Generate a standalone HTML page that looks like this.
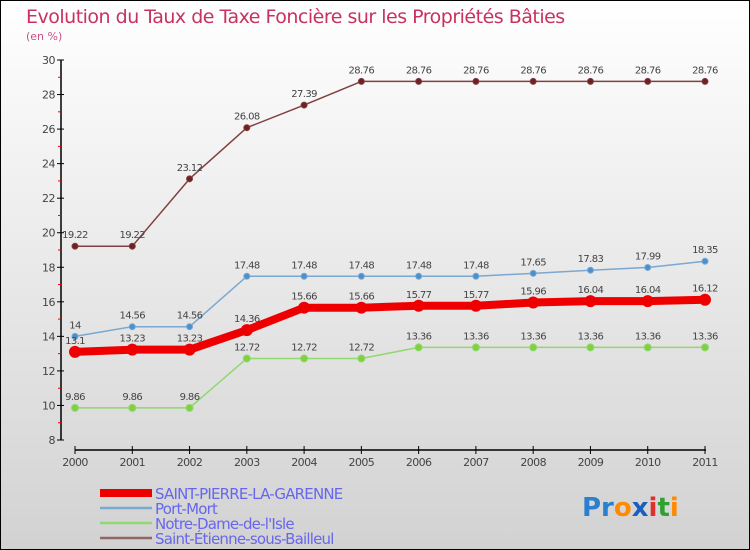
<!DOCTYPE html>
<html><head><meta charset="utf-8"><style>
body{margin:0}
#c{width:750px;height:550px;position:relative;background:linear-gradient(#ffffff,#d2d2d2);border:1px solid #000;box-sizing:border-box;font-family:"DejaVu Sans","Liberation Sans",sans-serif}
text{font-family:"DejaVu Sans","Liberation Sans",sans-serif}
</style></head><body>
<div id="c">
<svg id="s" width="750" height="550" style="position:absolute;left:-1px;top:-1px">
<text x="26" y="23" font-size="19" fill="#c8325f" letter-spacing="-0.5">Evolution du Taux de Taxe Foncière sur les Propriétés Bâties</text>
<text x="26" y="40" font-size="11" fill="#c8508a">(en %)</text>
<g id="axes"></g><g id="series"></g>
<g>
<rect x="100" y="489" width="52" height="8" fill="#ee0000"/>
<text x="155" y="499" font-size="15" fill="#6666ee" letter-spacing="-0.8">SAINT-PIERRE-LA-GARENNE</text>
<line x1="100" y1="508" x2="152" y2="508" stroke="#7aa8d0" stroke-width="2.5"/>
<text x="155" y="514" font-size="15" fill="#6666ee" letter-spacing="-0.8">Port-Mort</text>
<line x1="100" y1="523" x2="152" y2="523" stroke="#90d870" stroke-width="2.5"/>
<text x="155" y="529" font-size="15" fill="#6666ee" letter-spacing="-0.8">Notre-Dame-de-l'Isle</text>
<line x1="100" y1="538" x2="152" y2="538" stroke="#906868" stroke-width="2.5"/>
<text x="155" y="544" font-size="15" fill="#6666ee" letter-spacing="-0.8">Saint-Étienne-sous-Bailleul</text>
</g>
<text x="582" y="516" font-size="26" font-weight="bold"><tspan fill="#2a7fd0">Pr</tspan><tspan fill="#ff8a00">o</tspan><tspan fill="#1a5fc0">x</tspan><tspan fill="#e03030">i</tspan><tspan fill="#30a030">t</tspan><tspan fill="#ff8a00">i</tspan></text>
</svg></div>
<script>
const years=[2000,2001,2002,2003,2004,2005,2006,2007,2008,2009,2010,2011];
const yTicks=[8,10,12,14,16,18,20,22,24,26,28,30];
const stPierre=[13.1,13.23,13.23,14.36,15.66,15.66,15.77,15.77,15.96,16.04,16.04,16.12];
const portMort=[14,14.56,14.56,17.48,17.48,17.48,17.48,17.48,17.65,17.83,17.99,18.35];
const notreDame=[9.86,9.86,9.86,12.72,12.72,12.72,13.36,13.36,13.36,13.36,13.36,13.36];
const stEtienne=[19.22,19.22,23.12,26.08,27.39,28.76,28.76,28.76,28.76,28.76,28.76,28.76];
const NS="http://www.w3.org/2000/svg";
const X=i=>75+i*(705-75)/(years.length-1);
const Y=v=>440-(v-8)*(380/22);
function mk(t,a,p){const e=document.createElementNS(NS,t);for(const k in a)e.setAttribute(k,a[k]);p.appendChild(e);return e;}
const ax=document.getElementById('axes');
let yl=mk('line',{x1:61,y1:Y(30),x2:61,y2:Y(8),stroke:'#000','stroke-width':1.5},ax);


yTicks.forEach((v,k)=>{
 mk('line',{x1:57,y1:Y(v),x2:64,y2:Y(v),stroke:'#000'},ax);
 if(k<yTicks.length-1) mk('line',{x1:58,y1:Y(v+1),x2:61,y2:Y(v+1),stroke:'#e00'},ax);
 let t=mk('text',{x:55,y:Y(v)+4,'font-size':11,fill:'#444','text-anchor':'end','letter-spacing':'-0.5'},ax);t.textContent=v;
 
 
});
let xl=mk('line',{x1:75,y1:450,x2:706,y2:450,stroke:'#000','stroke-width':1.5},ax);


years.forEach((y,i)=>{
 mk('line',{x1:X(i),y1:446,x2:X(i),y2:454,stroke:'#000'},ax);
 let t=mk('text',{x:X(i),y:466,'font-size':11,fill:'#444','text-anchor':'middle','letter-spacing':'-0.6'},ax);t.textContent=y;
 
 
});
const sg=document.getElementById('series');
function series(name,vals,col,w,r,fill){
 const g=mk('g',{},sg);
 
 
 mk('polyline',{points:vals.map((v,i)=>X(i)+','+Y(v)).join(' '),fill:'none',stroke:col,'stroke-width':w,'stroke-linejoin':'round'},g);
 vals.forEach((v,i)=>{
  const c=mk('circle',{cx:X(i),cy:Y(v),r:r,fill:fill,stroke:col,'stroke-width':w>4?0:1},g);
  
  
  const t=mk('text',{x:X(i),y:Y(v)-8,'font-size':10,fill:'#444','text-anchor':'middle','letter-spacing':'-0.6'},g);
  t.textContent=String(v);
  
  
 });
}
series('series-saint-etienne',stEtienne,'#804040',1.5,3,'#702020');
series('series-notre-dame',notreDame,'#90d870',1.5,3.5,'#80d040');
series('series-port-mort',portMort,'#7aa8d0',1.5,3,'#4a90d0');
series('series-saint-pierre',stPierre,'#ee0000',8,6,'#ee0000');
</script>
</body></html>
